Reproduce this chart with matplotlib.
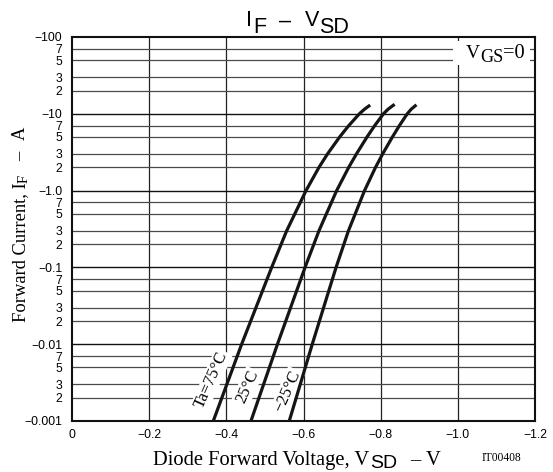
import matplotlib
matplotlib.use("Agg")
import matplotlib.pyplot as plt
from matplotlib.ticker import FixedLocator
from matplotlib.transforms import IdentityTransform
from matplotlib.patches import Rectangle

# ---- data (magnitudes; the chart shows them as negative values) ----
i_75 = [0.001, 0.01, 0.1, 0.3, 1.0, 2.0, 3.0, 5.0, 7.0, 10.0, 11.5, 13.0]
v_75 = [0.3662, 0.4397, 0.5175, 0.5564, 0.6065, 0.6399, 0.6622, 0.6938, 0.7171, 0.7448, 0.7583, 0.7728]

i_25 = [0.001, 0.01, 0.1, 0.3, 1.0, 2.0, 3.0, 5.0, 7.0, 10.0, 11.5, 13.3]
v_25 = [0.4638, 0.5325, 0.6040, 0.6401, 0.6859, 0.7170, 0.7372, 0.7647, 0.7844, 0.8072, 0.8194, 0.8362]

i_m25 = [0.001, 0.01, 0.1, 0.3, 1.0, 2.0, 3.0, 5.0, 7.0, 10.0, 11.5, 13.1]
v_m25 = [0.5631, 0.6227, 0.6844, 0.7165, 0.7582, 0.7865, 0.8051, 0.8305, 0.8484, 0.8689, 0.8793, 0.8927]

x_ticks = [0.0, 0.2, 0.4, 0.6, 0.8, 1.0, 1.2]
x_tick_labels = ["0", "\u22120.2", "\u22120.4", "\u22120.6", "\u22120.8", "\u22121.0", "\u22121.2"]
y_major = [0.001, 0.01, 0.1, 1.0, 10.0, 100.0]
y_major_labels = ["\u22120.001", "\u22120.01", "\u22120.1", "\u22121.0", "\u221210", "\u2212100"]
y_minor_mult = [2, 3, 5, 7]

W, H = 553, 472
fig = plt.figure(figsize=(W / 100, H / 100), dpi=100)
L, R, T, B = 72, 535, 37, 421
ax = fig.add_axes([L / W, 1 - B / H, (R - L) / W, (B - T) / H])

ax.set_xlim(0, 1.2)
ax.set_yscale('log')
ax.set_ylim(0.001, 100)

TICKFS = 8.8
ax.set_xticks(x_ticks)
ax.set_xticklabels(x_tick_labels, family='Liberation Sans', fontsize=TICKFS)

minor_pos = [d * m for d in y_major[:-1] for m in y_minor_mult]
minor_lab = [str(m) for d in y_major[:-1] for m in y_minor_mult]
ax.yaxis.set_major_locator(FixedLocator(y_major))
ax.set_yticklabels(y_major_labels, family='Liberation Sans', fontsize=TICKFS)
ax.set_yticks(minor_pos, minor=True)
ax.set_yticklabels(minor_lab, minor=True, family='Liberation Sans', fontsize=TICKFS)

ax.tick_params(axis='both', which='both', length=0)
ax.tick_params(axis='y', which='both', pad=7)
ax.tick_params(axis='x', which='both', pad=6)

# grid
for xv in x_ticks[1:-1]:
    ax.axvline(xv, color='#222222', lw=0.9, zorder=1)
for yv in y_major[1:-1]:
    ax.axhline(yv, color='#111111', lw=1.0, zorder=1)
for yv in minor_pos:
    ax.axhline(yv, color='#4a4a4a', lw=0.9, zorder=1)

for s in ax.spines.values():
    s.set_linewidth(1.5)
    s.set_color('#111111')

# curves
for vv, ii in [(v_75, i_75), (v_25, i_25), (v_m25, i_m25)]:
    ax.plot(vv, ii, color='#151515', lw=2.3, zorder=5,
            solid_capstyle='butt', solid_joinstyle='round')

# curve labels
lab_kw = dict(rotation=66, ha='center', va='center', fontsize=12,
              family='Liberation Serif', zorder=3,
              bbox=dict(facecolor='white', edgecolor='none', pad=1.0))
ax.text(0.3615, 0.00342, "Ta=75\u00b0C", **lab_kw)
ax.text(0.4548, 0.00281, "25\u00b0C", **lab_kw)
ax.text(0.5584, 0.00246, "\u221225\u00b0C", **lab_kw)

# ---------- helpers for pixel-placed text ----------
renderer = fig.canvas.get_renderer()
IDT = IdentityTransform()

def put(s, x, ytop, size, family, rot=0, **kw):
    return fig.text(x, H - ytop, s, transform=IDT, fontsize=size, family=family,
                    rotation=rot, rotation_mode='anchor', ha='left', va='baseline', **kw)

def fit_size(s, family, target_px):
    t = fig.text(0, 0, s, fontsize=20, family=family)
    w = t.get_window_extent(renderer).width
    t.remove()
    return 20 * target_px / w

# V_GS = 0 box
fig.patches.append(Rectangle((453, H - 65), 77, 24, transform=IDT,
                             facecolor='white', edgecolor='none', zorder=2))
put("V", 466, 58, fit_size("V", 'Liberation Serif', 14), 'Liberation Serif', zorder=6)
put("GS", 480, 61.5, fit_size("GS", 'Liberation Serif', 23), 'Liberation Serif', zorder=6)
put("=0", 503.5, 58, fit_size("=0", 'Liberation Serif', 21.5), 'Liberation Serif', zorder=6)

# title with lowered (same-size) subscripts
TFS = 15.5
put("I", 246, 26.5, TFS, 'Liberation Sans')
put("F", 253, 33, TFS, 'Liberation Sans')
put("\u2013", 279, 26.5, TFS, 'Liberation Sans')
put("V", 305, 26.5, TFS, 'Liberation Sans')
put("SD", 319, 33, TFS, 'Liberation Sans')

# x label
xs = fit_size("Diode Forward Voltage, V", 'Liberation Serif', 217)
put("Diode Forward Voltage, V", 153, 465, xs, 'Liberation Serif')
ss = fit_size("SD", 'Liberation Sans', 27)
put("SD", 370, 468, ss, 'Liberation Sans')
put("\u2013", 410, 465, xs, 'Liberation Serif')
put("V", 426, 465, xs, 'Liberation Serif')

# y label (rotated; text runs upward)
ys = fit_size("Forward Current, I", 'Liberation Serif', 139)
put("Forward Current, I", 25, 322, ys, 'Liberation Serif', rot=90)
put("F", 28, 183, ys * 0.8, 'Liberation Serif', rot=90)
put("\u2013", 25, 161, ys, 'Liberation Serif', rot=90)
put("A", 25, 140, ys, 'Liberation Serif', rot=90)

# figure code
put("IT00408", 482, 461, 8.3, 'Liberation Serif')

fig.savefig("out.png", dpi=100)
